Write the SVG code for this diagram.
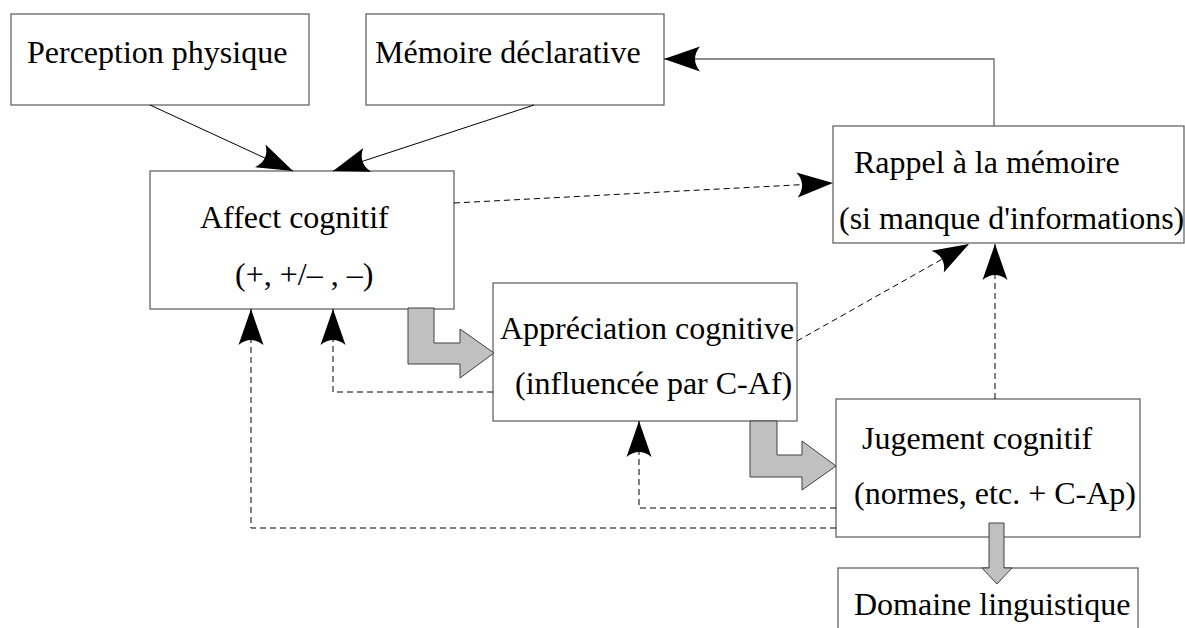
<svg xmlns="http://www.w3.org/2000/svg" width="1185" height="628" viewBox="0 0 1185 628">
<style>
.box{fill:#fff;stroke:#666;stroke-width:1.3}
.t{font-family:"Liberation Serif","Times New Roman",serif;font-size:32px;fill:#000}
.ln{fill:none;stroke:#000;stroke-width:1}
.ln2{fill:none;stroke:#666;stroke-width:1.3}
.dash{fill:none;stroke:#000;stroke-width:1;stroke-dasharray:6,4}
.blk{fill:#c0c0c0;stroke:#404040;stroke-width:1}
</style>
<defs>
<marker id="ah" viewBox="-37 -13 38 26" markerWidth="38" markerHeight="26" refX="0" refY="0" orient="auto" markerUnits="userSpaceOnUse">
<path d="M0,0 L-36,-12.5 Q-26,0 -36,12.5 Z" fill="#000"/>
</marker>
</defs>
<rect width="1185" height="628" fill="#fff"/>
<g id="perception"><rect class="box" x="11" y="14" width="298" height="91"/><text class="t" x="27" y="63">Perception physique</text></g>
<g id="memoire"><rect class="box" x="366" y="14" width="298" height="91"/><text class="t" x="375" y="63">Mémoire déclarative</text></g>
<g id="affect"><rect class="box" x="150" y="171" width="304" height="138"/><text class="t" x="200" y="228">Affect cognitif</text><text class="t" x="235" y="285">(+, +/– , –)</text></g>
<g id="rappel"><rect class="box" x="833" y="126" width="351" height="117"/><text class="t" x="854" y="173">Rappel à la mémoire</text><text class="t" x="839" y="229">(si manque d'informations)</text></g>
<g id="appreciation"><rect class="box" x="493" y="283" width="304" height="138"/><text class="t" x="500" y="339">Appréciation cognitive</text><text class="t" x="515" y="394">(influencée par C-Af)</text></g>
<g id="jugement"><rect class="box" x="836" y="399" width="304" height="138"/><text class="t" x="862" y="449">Jugement cognitif</text><text class="t" x="854" y="504">(normes, etc. + C-Ap)</text></g>
<g id="domaine"><rect class="box" x="838" y="568" width="300" height="75"/><text class="t" x="854" y="615">Domaine linguistique</text></g>
<g id="connectors">
<path class="ln" d="M150,105 L293,171" marker-end="url(#ah)"/>
<path class="ln" d="M534,105 L333,171" marker-end="url(#ah)"/>
<path class="ln2" d="M994,126 V59 H664" marker-end="url(#ah)"/>
<path class="dash" d="M454,203 L833,183" marker-end="url(#ah)"/>
<path class="dash" d="M797,341 L969,244" marker-end="url(#ah)"/>
<path class="dash" d="M995,399 V244" marker-end="url(#ah)"/>
<path class="dash" d="M493,392 H333 V309" marker-end="url(#ah)"/>
<path class="dash" d="M836,508 H639 V421" marker-end="url(#ah)"/>
<path class="dash" d="M836,528 H251 V309" marker-end="url(#ah)"/>
<polygon class="blk" points="408,308 434,308 434,343 460,343 460,329 494,353 460,378 460,364 408,364"/>
<polygon class="blk" points="750,421 777,421 777,455 802,455 802,441 836,466 802,490 802,477 750,477"/>
<polygon class="blk" points="989,523 1004,523 1004,568 1012,568 997,584 982,568 989,568"/>
</g>
</svg>
